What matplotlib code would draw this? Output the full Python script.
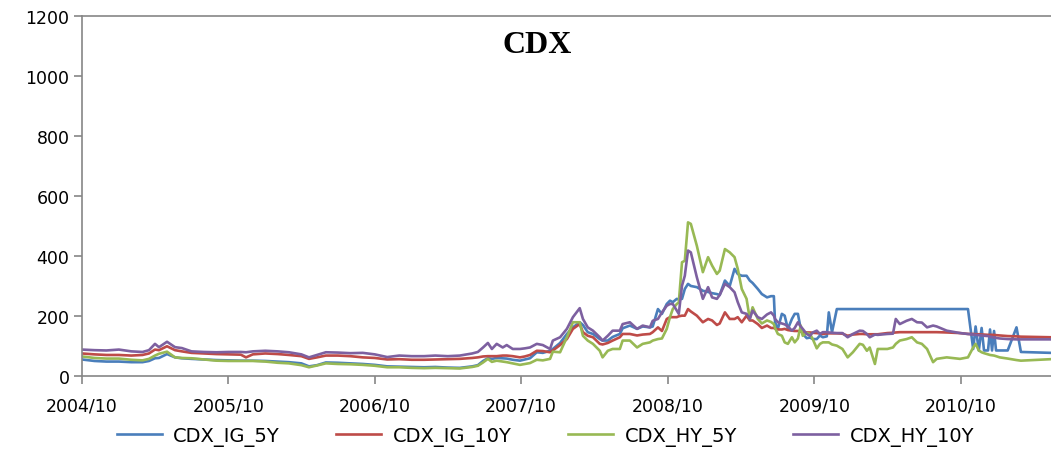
import pandas as pd
import matplotlib
matplotlib.use('Agg')
import matplotlib.pyplot as plt

# 日期 (近似周度读数)
dates = [
    '2004-10-01', '2004-11-01', '2004-12-01', '2005-01-01', '2005-02-01', '2005-03-01',
    '2005-03-17', '2005-04-01', '2005-04-11', '2005-05-01', '2005-05-21', '2005-06-07',
    '2005-07-01', '2005-08-01', '2005-09-01', '2005-10-01', '2005-11-01', '2005-11-14',
    '2005-12-01', '2006-01-01', '2006-02-01', '2006-03-01', '2006-04-01', '2006-04-20',
    '2006-05-10', '2006-06-01', '2006-07-01', '2006-08-01', '2006-09-01', '2006-10-01',
    '2006-11-01', '2006-12-01', '2007-01-01', '2007-02-01', '2007-03-01', '2007-04-01',
    '2007-05-01', '2007-06-01', '2007-06-15', '2007-06-28', '2007-07-10', '2007-07-20',
    '2007-08-01', '2007-08-16', '2007-08-26', '2007-09-10', '2007-09-28', '2007-10-10',
    '2007-10-23', '2007-11-09', '2007-11-24', '2007-12-12', '2007-12-19', '2008-01-06',
    '2008-01-23', '2008-02-07', '2008-02-24', '2008-03-03', '2008-03-15', '2008-03-28',
    '2008-04-14', '2008-04-21', '2008-05-04', '2008-05-16', '2008-06-03', '2008-06-10',
    '2008-06-28', '2008-07-16', '2008-07-30', '2008-08-17', '2008-08-24', '2008-09-06',
    '2008-09-16', '2008-09-28', '2008-10-06', '2008-10-13', '2008-10-23', '2008-10-28',
    '2008-11-05', '2008-11-12', '2008-11-20', '2008-11-27', '2008-12-12', '2008-12-27',
    '2009-01-09', '2009-01-19', '2009-01-31', '2009-02-07', '2009-02-20', '2009-03-04',
    '2009-03-16', '2009-03-24', '2009-04-03', '2009-04-15', '2009-04-23', '2009-04-30',
    '2009-05-13', '2009-05-23', '2009-06-05', '2009-06-15', '2009-06-22', '2009-06-25',
    '2009-07-02', '2009-07-12', '2009-07-19', '2009-07-27', '2009-08-06', '2009-08-13',
    '2009-08-21', '2009-08-28', '2009-09-02', '2009-09-12', '2009-09-20', '2009-09-27',
    '2009-10-07', '2009-10-15', '2009-10-22', '2009-11-01', '2009-11-06', '2009-11-14',
    '2009-11-26', '2009-12-10', '2009-12-23', '2010-01-05', '2010-01-22', '2010-01-30',
    '2010-02-09', '2010-02-16', '2010-03-01', '2010-03-08', '2010-04-01', '2010-04-15',
    '2010-04-22', '2010-05-02', '2010-05-19', '2010-06-01', '2010-06-14', '2010-06-26',
    '2010-07-09', '2010-07-24', '2010-08-02', '2010-08-27', '2010-09-29', '2010-10-19',
    '2010-11-01', '2010-11-07', '2010-11-15', '2010-11-22', '2010-11-28', '2010-12-08',
    '2010-12-13', '2010-12-18', '2010-12-23', '2010-12-28', '2011-01-06', '2011-01-26',
    '2011-02-17', '2011-02-28', '2011-05-14',
]

cdx_ig_5y = [
    55, 50, 48, 48, 46, 46, 50, 59, 60, 73, 62, 59,
    57, 55, 53, 52, 51, 51, 51, 50, 48, 46, 42, 32,
    36, 45, 44, 42, 40, 37, 32, 31, 30, 29, 30, 28,
    27, 32, 36, 50, 59, 57, 60, 59, 58, 54, 51, 55,
    59, 79, 77, 84, 90, 110, 140, 162, 179, 170, 146, 140,
    123, 118, 118, 130, 140, 159, 168, 157, 165, 162, 165, 223,
    207, 240, 251, 246, 257, 255, 257, 290, 307, 300, 296, 284,
    280, 276, 273, 270, 318, 300, 357, 340, 334, 334, 318, 310,
    290, 273, 262, 266, 266, 179, 157, 207, 201, 157, 190, 207,
    207, 157, 140, 126, 128, 123, 123, 135, 129, 132, 212, 146,
    223, 223, 223, 223, 223, 223, 223, 223, 223, 223, 223, 223,
    223, 223, 223, 223, 223, 223, 223, 223, 223, 223, 223, 223,
    90, 165, 85, 160, 85, 85, 155, 85, 150, 85, 85, 85,
    162, 80, 77,
]

cdx_ig_10y = [
    75, 72, 70, 70, 68, 70, 75, 88, 86, 99, 86, 82,
    77, 75, 73, 72, 71, 62, 72, 75, 73, 70, 66, 57,
    62, 68, 68, 66, 62, 60, 55, 56, 54, 54, 55, 56,
    57, 60, 62, 65, 66, 66, 66, 68, 68, 66, 62, 65,
    70, 84, 83, 79, 85, 103, 123, 157, 173, 146, 134, 129,
    107, 105, 110, 118, 129, 140, 140, 135, 138, 140, 146, 162,
    150, 190, 196, 196, 196, 199, 201, 201, 223, 215, 201, 179,
    190, 185, 170, 175, 212, 190, 190, 196, 179, 201, 185, 185,
    173, 160, 168, 160, 160, 158, 155, 155, 157, 153, 151, 150,
    150, 148, 146, 145, 145, 144, 143, 142, 140, 142, 142, 142,
    142, 141, 134, 138, 140, 140, 139, 139, 139, 139, 143, 144,
    145, 146, 146, 146, 146, 146, 146, 146, 146, 145, 143, 140,
    140, 139, 139, 138, 138, 137, 137, 137, 137, 136, 135, 133,
    132, 131, 129,
]

cdx_hy_5y = [
    65, 60, 58, 58, 54, 52, 57, 68, 74, 81, 62, 60,
    59, 55, 51, 50, 50, 50, 50, 48, 44, 42, 36, 29,
    35, 42, 40, 39, 37, 34, 29, 29, 27, 26, 27, 26,
    25, 30, 34, 45, 57, 47, 51, 48, 46, 42, 37, 40,
    43, 54, 52, 57, 81, 79, 129, 179, 179, 134, 118, 107,
    84, 62, 84, 90, 90, 118, 118, 95, 107, 112, 118, 123,
    125, 157, 196, 223, 240, 245, 379, 384, 512, 507, 434, 346,
    396, 368, 340, 351, 423, 412, 396, 357, 290, 257, 190, 229,
    190, 175, 185, 180, 173, 160, 140, 134, 112, 107, 129, 112,
    125, 168, 134, 143, 140, 123, 92, 107, 112, 112, 112, 105,
    101, 90, 62, 79, 107, 104, 84, 95, 40, 90, 90, 95,
    107, 118, 123, 129, 112, 107, 90, 46, 57, 62, 57, 62,
    95, 107, 85, 79, 76, 72, 70, 69, 68, 66, 62, 58,
    53, 51, 56,
]

cdx_hy_10y = [
    88, 86, 85, 88, 82, 80, 86, 107, 96, 114, 96, 93,
    82, 80, 79, 80, 80, 79, 82, 84, 82, 79, 72, 62,
    70, 79, 78, 76, 77, 72, 63, 68, 66, 66, 68, 66,
    68, 75, 80, 95, 110, 90, 107, 95, 103, 90, 90, 92,
    95, 107, 103, 90, 118, 129, 157, 196, 226, 190, 162, 151,
    129, 118, 134, 151, 151, 173, 179, 157, 168, 162, 184, 190,
    212, 234, 240, 240, 218, 207, 301, 334, 418, 412, 329, 257,
    296, 262, 257, 270, 307, 296, 279, 246, 212, 207, 190, 218,
    196, 190, 205, 212, 201, 190, 179, 175, 172, 165, 151, 160,
    179, 165, 157, 140, 134, 145, 151, 140, 146, 146, 145, 144,
    143, 143, 129, 140, 151, 150, 140, 129, 138, 137, 140, 141,
    190, 173, 184, 190, 179, 178, 162, 168, 165, 151, 143, 140,
    138, 137, 136, 135, 134, 133, 131, 130, 128, 127, 125, 123,
    122, 122, 122,
]

labels = ['CDX_IG_5Y', 'CDX_IG_10Y', 'CDX_HY_5Y', 'CDX_HY_10Y']
colors = ['#4A7EBB', '#BE4B48', '#98B954', '#7D60A0']
tick_dates = ['2004-10-01', '2005-10-01', '2006-10-01', '2007-10-01',
              '2008-10-01', '2009-10-01', '2010-10-01']
tick_labels = ['2004/10', '2005/10', '2006/10', '2007/10', '2008/10', '2009/10', '2010/10']

x = pd.to_datetime(dates)

fig = plt.figure(figsize=(10.51, 4.52), dpi=100)
ax = fig.add_axes([0.078, 0.166, 0.922, 0.7965])

for vals, lab, c in zip([cdx_ig_5y, cdx_ig_10y, cdx_hy_5y, cdx_hy_10y], labels, colors):
    ax.plot(x, vals, color=c, linewidth=1.9, label=lab, solid_joinstyle='round')

ax.set_ylim(0, 1200)
ax.set_yticks(range(0, 1201, 200))
ax.set_xlim(pd.Timestamp('2004-10-01'), pd.Timestamp('2011-05-14'))
ax.set_xticks(pd.to_datetime(tick_dates))
ax.set_xticklabels(tick_labels)

gray = '#868686'
for side in ['left', 'bottom', 'top']:
    ax.spines[side].set_color(gray)
    ax.spines[side].set_linewidth(1.2)
ax.spines['right'].set_visible(False)
ax.tick_params(axis='y', direction='out', length=6, width=1.2, color=gray, pad=3, labelsize=12.5)
ax.tick_params(axis='x', direction='out', length=6, width=1.2, color=gray, pad=8.5, labelsize=12.5)

ax.text(0.47, 0.92, 'CDX', transform=ax.transAxes, ha='center', va='center',
        fontsize=23, fontweight='bold', family='Liberation Serif')

fig.legend(loc='center', bbox_to_anchor=(0.519, 0.033), ncol=4, frameon=False,
           fontsize=14, handlelength=2.3, handletextpad=0.6, columnspacing=2.9,
           borderpad=0)

fig.savefig('out.png', dpi=100)
